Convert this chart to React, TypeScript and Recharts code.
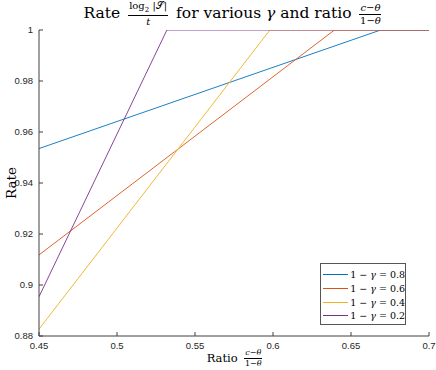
import type { ReactNode } from "react";
import { LineChart, Line, XAxis, YAxis } from "recharts";

const ratioTicks = [0.45, 0.5, 0.55, 0.6, 0.65, 0.7];
const rateTicks = [0.88, 0.9, 0.92, 0.94, 0.96, 0.98, 1];
const gammaLabels = ["0.8", "0.6", "0.4", "0.2"];
const seriesColors = ["#0072BD", "#D95319", "#EDB120", "#7E2F8E"];
// rate read at ratio = 0.45
const startRate = [0.9535, 0.9118, 0.8827, 0.8954];
// ratio where the rate hits 1 and stays there
const saturationRatio = [0.669, 0.6394, 0.598, 0.532];
const ratioRange = [0.45, 0.7];
const rateRange = [0.88, 1];

const series = gammaLabels.map((g, i) => ({
  label: g,
  color: seriesColors[i],
  data: [
    { ratio: ratioRange[0], rate: startRate[i] },
    { ratio: saturationRatio[i], rate: rateRange[1] },
    { ratio: ratioRange[1], rate: rateRange[1] },
  ],
}));

const fmt = (v: number) => String(+v.toFixed(2));
const serif = "'DejaVu Serif', serif";
const tickStyle = { fontSize: 9.5, fill: "#262626", fontFamily: "'Liberation Sans', Arial, sans-serif" };

function Frac({ num, den, size }: { num: ReactNode; den: ReactNode; size: number }) {
  return (
    <span
      style={{
        display: "inline-flex",
        flexDirection: "column",
        alignItems: "center",
        verticalAlign: "middle",
        fontSize: size,
        lineHeight: 1,
        margin: "0 3px",
      }}
    >
      <span style={{ padding: "0 1px 1px" }}>{num}</span>
      <span style={{ borderTop: "0.8px solid #000", width: "100%", textAlign: "center", paddingTop: 1 }}>{den}</span>
    </span>
  );
}

const thetaFrac = (size: number) => (
  <Frac
    size={size}
    num={<><i>c</i>−<i>θ</i></>}
    den={<>1−<i>θ</i></>}
  />
);

export default function App() {
  return (
    <div style={{ position: "absolute", left: 0, top: 0, width: 436, height: 370, background: "#fff", fontFamily: serif, color: "#000" }}>
      <LineChart width={436} height={370} margin={{ top: 30, right: 7, bottom: 0, left: 0 }}>
        <XAxis
          type="number"
          dataKey="ratio"
          domain={ratioRange}
          ticks={ratioTicks}
          tickFormatter={fmt}
          height={34}
          tickSize={-4}
          tickMargin={10}
          tick={tickStyle}
          stroke="#404040"
          allowDataOverflow
        />
        <YAxis
          type="number"
          dataKey="rate"
          domain={rateRange}
          ticks={rateTicks}
          tickFormatter={fmt}
          width={39}
          tickSize={-4}
          tickMargin={10}
          tick={tickStyle}
          stroke="#404040"
          allowDataOverflow
        />
        {series.map((s) => (
          <Line
            key={s.label}
            data={s.data}
            dataKey="rate"
            stroke={s.color}
            strokeWidth={0.9}
            dot={false}
            activeDot={false}
            isAnimationActive={false}
          />
        ))}
      </LineChart>

      <div style={{ position: "absolute", left: 0, top: 1, width: 436, paddingLeft: 32, boxSizing: "border-box", textAlign: "center", fontSize: 15.5, whiteSpace: "nowrap" }}>
        Rate{" "}
        <Frac size={10} num={<>log<sub style={{ fontSize: 7 }}>2</sub> |𝒮|</>} den={<i>t</i>} />{" "}
        for various <i>γ</i> and ratio {thetaFrac(10)}
      </div>

      <div style={{ position: "absolute", left: 11, top: 183, transform: "translate(-50%, -50%) rotate(-90deg)", fontSize: 13.5, whiteSpace: "nowrap" }}>
        Rate
      </div>

      <div style={{ position: "absolute", left: 0, top: 349, width: 436, paddingLeft: 36, boxSizing: "border-box", textAlign: "center", fontSize: 11.5, whiteSpace: "nowrap" }}>
        Ratio {thetaFrac(8)}
      </div>

      <div style={{ position: "absolute", left: 320, top: 263, width: 86, height: 62, boxSizing: "border-box", border: "1px solid #555", background: "#fff", padding: "4px 0 0 2px" }}>
        {series.map((s) => (
          <div key={s.label} style={{ display: "flex", alignItems: "center", height: 13.7, fontSize: 9.5, whiteSpace: "nowrap" }}>
            <span style={{ display: "inline-block", width: 27, height: 0, borderTop: `1px solid ${s.color}`, marginRight: 2 }} />
            <span>1 − <i>γ</i> = {s.label}</span>
          </div>
        ))}
      </div>
    </div>
  );
}
